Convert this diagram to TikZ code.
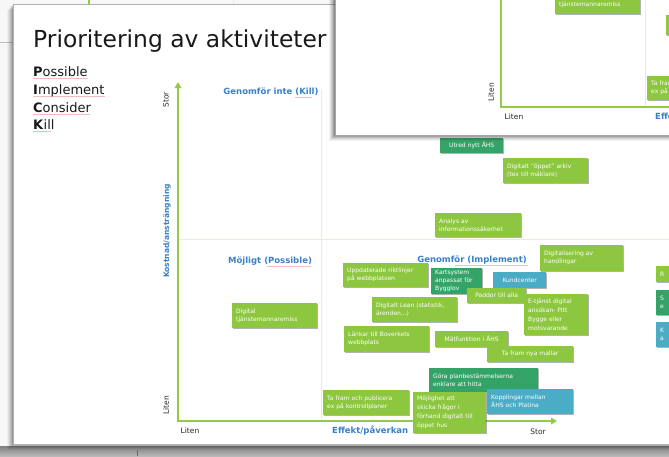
\documentclass[tikz,border=0pt]{standalone}
\usepackage{fontspec}
\setmainfont{DejaVu Sans}
\usetikzlibrary{shadows,arrows.meta}
\definecolor{lime}{RGB}{141,198,63}
\definecolor{dgreen}{RGB}{52,163,104}
\definecolor{bblue}{RGB}{75,172,198}
\definecolor{lblue}{RGB}{58,128,200}
\definecolor{axgreen}{RGB}{146,204,70}
\definecolor{divline}{RGB}{228,238,216}
\definecolor{spellred}{RGB}{236,140,150}
\newcommand\actbox[8][]{%
  \pgfmathsetmacro\bw{#5-#3-8}%
  \pgfmathsetmacro\bh{#6-#4}%
  \node[abox, fill=#7, text width=\bw pt, minimum height=\bh pt, anchor=north west, #1] (#2) at (#3,#4) {#8};}
\begin{document}
\begin{tikzpicture}[x=1pt,y=-1pt,
  abox/.style={inner xsep=4pt, inner ysep=1pt, text=white, font=\fontsize{6}{8}\selectfont, align=left,
    drop shadow={shadow xshift=0.8pt, shadow yshift=-0.8pt, opacity=0.3, fill=black}},
  bluelab/.style={text=lblue, font=\fontsize{8.5}{10}\selectfont\bfseries, inner sep=0pt},
  axlab/.style={text=black!85, font=\fontsize{7.5}{9}\selectfont, inner sep=0pt},
  axisline/.style={axgreen, line width=2.2pt},
  divl/.style={divline, line width=0.8pt},
  spell/.style={spellred, opacity=0.6, line width=0.6pt},
  pick/.style={anchor=base west, inner sep=0pt, font=\fontsize{13}{15}\selectfont, text=black!90}]
\clip (0,0) rectangle (669,456);
\useasboundingbox (0,0) rectangle (669,456);
% background
\fill[black!3] (0,0) rectangle (669,456);
\draw[black!25, line width=0.6pt] (0,42) -- (12,42);
\draw[axgreen, line width=1.5pt] (89,0) -- (89,4);
\draw[divline, line width=0.8pt] (233,0) -- (233,4);
\shade[top color=black!50, bottom color=black!28] (0,446) rectangle (669,456);
\draw[black!60, line width=0.8pt] (137,450) -- (137,456);
% main slide shadow and slide
\foreach \i/\o in {6/0.04,5/0.05,4/0.06,3/0.08,2/0.10,1/0.12}
  \fill[black, opacity=\o] (13-\i,4+\i) rectangle (680,444+\i);
\fill[white] (13,4) rectangle (680,444);
\draw[black!30, line width=0.5pt] (680,4) -- (13,4) -- (13,444) -- (680,444);
% title and list
\node[anchor=base west, inner sep=0pt, font=\fontsize{23.4}{28}\selectfont, text=black!90] (title) at (33,47) {Prioritering av aktiviteter};
\node[pick] (p1) at (33,76) {\textbf{P}ossible};
\node[pick] (p2) at (33,94) {\textbf{I}mplement};
\node[pick] (p3) at (33,112) {\textbf{C}onsider};
\node[pick] (p4) at (33,129) {\textbf{K}ill};
\draw[spell] (33,78.5) -- (88,78.5);
\draw[spell] (33,96.5) -- (105,96.5);
\draw[spell] (33,114.5) -- (90,114.5);
\draw[spell] (33,131.5) -- (51,131.5);
% chart axes and dividers
\coordinate (O) at (178,421);
\coordinate (ytop) at (178,82);
\coordinate (xend) at (557,421);
\draw[divl] (321,90) -- (321,420);
\draw[divl] (178,239) -- (669,239);
\draw[axisline, line join=miter, {Triangle[length=6pt,width=6.5pt]}-{Triangle[length=6pt,width=6.5pt]}] (ytop) -- (O) -- (xend);
% axis labels
\node[axlab, rotate=90] (ystor) at (166,100) {Stor};
\node[axlab, rotate=90] (yliten) at (166,405) {Liten};
\node[axlab] (xliten) at (190,431) {Liten};
\node[axlab] (xstor) at (538,432) {Stor};
\node[bluelab, rotate=90, font=\fontsize{7.5}{9}\selectfont\bfseries] (ylab) at (167,231) {Kostnad/ansträngning};
\node[bluelab, anchor=west] (xlab) at (332,431) {Effekt/påverkan};
\node[bluelab] (qkill) at (271,92) {Genomför inte (Kill)};
\node[bluelab] (qposs) at (270,261) {Möjligt (Possible)};
\node[bluelab] (qimpl) at (472,260) {Genomför (Implement)};
\draw[spell] (295,97.5) -- (312,97.5);
\draw[spell] (267,266.5) -- (311,266.5);
\draw[spell] (455,265.5) -- (528,265.5);
% activity boxes
\actbox[align=center]{b1}{440}{138}{503}{153}{dgreen}{Utred nytt ÅHS}
\actbox{b2}{503}{158}{588}{183}{lime}{Digitalt ”öppet” arkiv\\(tex till mäklare)}
\actbox{b3}{435}{213}{521}{237}{lime}{Analys av\\informationssäkerhet}
\actbox{b4}{540}{245}{623}{271}{lime}{Digitalisering av\\handlingar}
\actbox{b5}{343}{263}{428}{287}{lime}{Uppdaterade riktlinjer\\på webbplatsen}
\actbox[font=\fontsize{6}{7.8}\selectfont]{b6}{431}{268}{482}{294}{dgreen}{Kartsystem\\anpassat för\\Bygglov}
\actbox[align=center]{b7}{493}{272}{546}{288}{bblue}{Kundcenter}
\actbox[align=center]{b8}{467}{288}{526}{303}{lime}{Paddor till alla}
\actbox[font=\fontsize{6}{9}\selectfont]{b9}{524}{294}{588}{335}{lime}{E-tjänst digital\\ansökan- Pitt\\Bygge eller\\motsvarande}
\actbox{b10}{372}{297}{457}{322}{lime}{Digitalt Lean (statistik,\\ärenden,..)}
\actbox{b11}{232}{303}{317}{328}{lime}{Digital\\tjänstemannaremiss}
\actbox{b12}{344}{326}{429}{352}{lime}{Länkar till Boverkets\\webbplats}
\actbox[align=center]{b13}{435}{331}{508}{347}{lime}{Mätfunktion i ÅHS}
\actbox[align=center]{b14}{487}{346}{573}{362}{lime}{Ta fram nya mallar}
\actbox{b15}{429}{368}{538}{392}{dgreen}{Göra planbestämmelserna\\enklare att hitta}
\actbox{b16}{487}{389}{573}{414}{bblue}{Kopplingar mellan\\ÅHS och Platina}
\actbox[font=\fontsize{6}{9}\selectfont]{b17}{413}{392}{486}{433}{lime}{Möjlighet att\\skicka frågor i\\förhand digitalt till\\öppet hus}
\actbox{b18}{323}{390}{409}{415}{lime}{Ta fram och publicera\\ex på kontrollplaner}
\actbox{b19}{656}{266}{700}{282}{lime}{R}
\actbox{b20}{656}{290}{700}{315}{dgreen}{S\\e}
\actbox{b21}{656}{322}{700}{347}{bblue}{K\\a}
% overlapping slide (top right)
\foreach \i/\o in {6/0.05,5/0.06,4/0.08,3/0.10,2/0.12,1/0.15}
  \fill[black, opacity=\o] (335-\i,-5) rectangle (680,135+\i);
\fill[white] (335,-5) rectangle (680,135);
\draw[black!35, line width=0.5pt] (335,-5) -- (335,135) -- (680,135);
\coordinate (s2top) at (501,-2);
\coordinate (s2O) at (501,107);
\coordinate (s2x) at (672,107);
\draw[divl] (645,0) -- (645,106);
\draw[axisline, line width=1.8pt, line join=miter] (s2top) -- (s2O) -- (s2x);
\actbox{c1}{555}{-13}{640}{14}{lime}{Digital\\tjänstemannaremiss}
\actbox{c2}{666}{15}{700}{35}{lime}{}
\actbox{c3}{647}{76}{733}{100}{lime}{Ta fram och publicera\\ex på kontrollplaner}
\node[axlab, rotate=90] (s2liten) at (491,92) {Liten};
\node[axlab] (s2xliten) at (514,117) {Liten};
\node[bluelab, anchor=west] (s2xlab) at (655,117) {Effekt/påverkan};
\end{tikzpicture}
\end{document}
